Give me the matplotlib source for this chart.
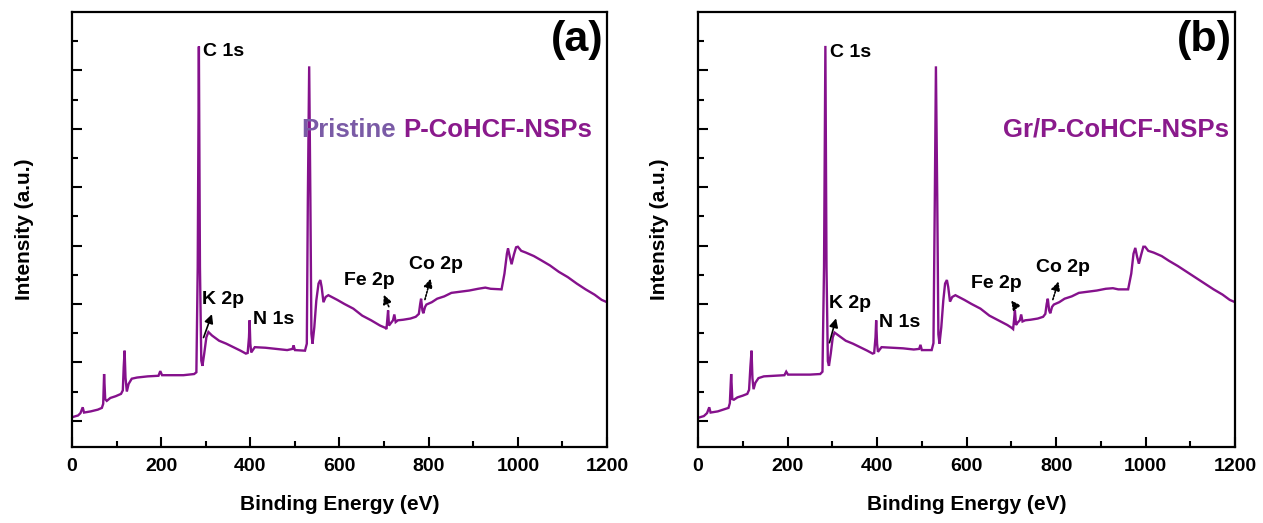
import matplotlib
matplotlib.use("Agg")
import matplotlib.pyplot as plt
from matplotlib.ticker import MultipleLocator

plt.rcParams['font.family'] = ['Liberation Sans', 'DejaVu Sans']
plt.rcParams['font.weight'] = 'bold'

# ---- data (binding energy in eV, intensity in arbitrary units) ----
be_a = [0, 13.6, 19, 24, 27, 42, 58, 67, 70, 72, 74.5, 78, 86, 98, 110, 114, 116, 118, 120, 123,
        127, 134, 146, 170, 194, 198, 202, 226, 250, 274, 279, 282, 284.6, 287, 290, 292.6, 296.6,
        301.4, 306, 314, 330, 346, 362, 378, 390, 394, 397, 398.4, 400, 402, 410, 434, 458.5,
        482.6, 494.6, 497, 500, 522.6, 526.7, 529, 532, 534.7, 537, 539.5, 543.5, 548, 553, 557,
        560, 564, 569, 575, 595, 611, 631, 651, 671, 691, 703, 705.4, 707, 709, 711, 715, 720,
        723, 726, 731, 743, 759, 771, 778, 781, 783, 786, 788, 792, 795, 807, 819, 835, 851, 871,
        891, 911, 927, 939, 963.5, 970, 975.5, 978, 982, 986, 991, 996, 1000, 1007.6, 1018, 1036,
        1052, 1072, 1092, 1112, 1132, 1152, 1172, 1188, 1200]
int_a = [0.06, 0.09, 0.13, 0.23, 0.14, 0.16, 0.19, 0.22, 0.29, 0.80, 0.37, 0.34, 0.39, 0.42, 0.46,
         0.52, 0.92, 1.20, 0.74, 0.50, 0.63, 0.72, 0.74, 0.76, 0.77, 0.85, 0.78, 0.78, 0.78, 0.80,
         0.83, 2.63, 6.41, 2.63, 1.03, 0.94, 1.15, 1.43, 1.52, 1.46, 1.37, 1.32, 1.26, 1.20, 1.15,
         1.16, 1.43, 1.72, 1.32, 1.17, 1.26, 1.25, 1.23, 1.21, 1.23, 1.29, 1.21, 1.20, 1.32, 3.78,
         6.07, 3.78, 1.49, 1.32, 1.60, 2.06, 2.35, 2.41, 2.29, 2.03, 2.12, 2.15, 2.07, 2.00, 1.92,
         1.80, 1.72, 1.63, 1.59, 1.57, 1.72, 1.89, 1.63, 1.67, 1.72, 1.82, 1.69, 1.72, 1.73, 1.75,
         1.78, 1.83, 2.00, 2.09, 1.89, 1.84, 1.95, 1.99, 2.03, 2.09, 2.13, 2.19, 2.21, 2.23, 2.26,
         2.28, 2.26, 2.25, 2.52, 2.86, 2.95, 2.81, 2.68, 2.84, 2.97, 2.98, 2.91, 2.88, 2.82, 2.75,
         2.66, 2.55, 2.46, 2.35, 2.25, 2.16, 2.07, 2.03]

be_b = [0, 13, 20, 25, 28, 44, 60, 68, 71, 74, 76.5, 80, 88, 100, 110, 114, 117, 119.5, 121.5, 124,
        128, 135, 147, 170, 193, 197, 201, 226, 250, 273, 278, 281.5, 284.5, 287, 290, 292.5, 296.5,
        301, 305, 314, 330, 346, 362, 378, 390, 393.5, 396.5, 398, 400, 402, 410, 434, 458,
        482, 494, 497, 500, 522, 526, 529, 531.5, 534.5, 537, 539.5, 543.5, 548, 552, 556,
        559, 563, 568, 575, 595, 611, 631, 651, 671, 691, 701, 704, 706, 708, 710.5, 714, 719,
        722, 725, 731, 743, 759, 771, 776, 779, 781.5, 784.5, 787, 791, 795, 807, 819, 835, 851, 871,
        891, 911, 927, 939, 961, 968, 973, 977, 981, 985, 990, 995, 999, 1006, 1018, 1036,
        1052, 1072, 1092, 1112, 1132, 1152, 1172, 1188, 1200]
int_b = [0.05, 0.08, 0.13, 0.23, 0.14, 0.16, 0.20, 0.22, 0.30, 0.80, 0.37, 0.36, 0.40, 0.43, 0.46,
         0.53, 0.93, 1.20, 0.73, 0.54, 0.65, 0.73, 0.76, 0.77, 0.78, 0.84, 0.79, 0.79, 0.79, 0.80,
         0.84, 2.63, 6.42, 2.63, 1.02, 0.94, 1.15, 1.43, 1.51, 1.46, 1.37, 1.32, 1.26, 1.20, 1.15,
         1.16, 1.43, 1.72, 1.32, 1.18, 1.26, 1.25, 1.24, 1.22, 1.23, 1.30, 1.21, 1.21, 1.33, 3.78,
         6.07, 3.78, 1.48, 1.32, 1.60, 2.06, 2.35, 2.41, 2.29, 2.04, 2.12, 2.15, 2.07, 2.00, 1.92,
         1.80, 1.72, 1.64, 1.59, 1.57, 1.72, 1.89, 1.64, 1.68, 1.72, 1.82, 1.70, 1.72, 1.73, 1.75,
         1.78, 1.83, 2.00, 2.09, 1.89, 1.84, 1.95, 1.99, 2.03, 2.09, 2.13, 2.19, 2.21, 2.23, 2.26,
         2.27, 2.25, 2.25, 2.52, 2.86, 2.96, 2.81, 2.69, 2.84, 2.98, 2.98, 2.91, 2.88, 2.82, 2.74,
         2.65, 2.55, 2.45, 2.35, 2.25, 2.16, 2.07, 2.03]

xlabel = "Binding Energy (eV)"
ylabel = "Intensity (a.u.)"
panel_tags = ["(a)", "(b)"]
line_color = "#85118c"

fig = plt.figure(figsize=(12.63, 5.23), dpi=100)
fig.patch.set_facecolor("white")
ax_a = fig.add_axes([0.057, 0.1453, 0.4236, 0.8317])
ax_b = fig.add_axes([0.5527, 0.1453, 0.4252, 0.8317])

for ax, be, inten, tag, ypad in [(ax_a, be_a, int_a, panel_tags[0], 27),
                                 (ax_b, be_b, int_b, panel_tags[1], 21)]:
    ax.plot(be, inten, color=line_color, lw=1.7, solid_joinstyle='miter')
    ax.set_xlim(0, 1200)
    ax.set_ylim(-0.45, 7.0)
    ax.xaxis.set_major_locator(MultipleLocator(200))
    ax.xaxis.set_minor_locator(MultipleLocator(100))
    ax.set_yticks([0, 1, 2, 3, 4, 5, 6])
    ax.set_yticks([0.5, 1.5, 2.5, 3.5, 4.5, 5.5, 6.5], minor=True)
    ax.tick_params(axis='both', which='major', direction='in', length=7, width=1.5,
                   top=False, right=False, labelsize=14, pad=8)
    ax.tick_params(axis='both', which='minor', direction='in', length=4.5, width=1.5,
                   top=False, right=False)
    ax.tick_params(axis='y', which='both', labelleft=False)
    for lab in ax.get_xticklabels():
        lab.set_fontweight('bold')
    for s in ax.spines.values():
        s.set_linewidth(1.6)
    ax.set_xlabel(xlabel, fontsize=15, fontweight='bold', labelpad=14)
    ax.set_ylabel(ylabel, fontsize=15, fontweight='bold', labelpad=ypad)
    ax.text(0.994, 0.935, tag, transform=ax.transAxes, ha='right', va='center',
            fontsize=31, fontweight='bold', color='black')

# --- annotations panel (a) ---
fs = 14
ax_a.text(294, 6.33, "C 1s", fontsize=fs, fontweight='bold', va='center', ha='left')
ax_a.text(292, 2.08, "K 2p", fontsize=fs, fontweight='bold', va='center', ha='left')
ax_a.text(405, 1.73, "N 1s", fontsize=fs, fontweight='bold', va='center', ha='left')
ax_a.text(611, 2.41, "Fe 2p", fontsize=fs, fontweight='bold', va='center', ha='left')
ax_a.text(755, 2.68, "Co 2p", fontsize=fs, fontweight='bold', va='center', ha='left')
ax_a.text(514, 4.98, "Pristine", fontsize=18.5, fontweight='bold', va='center', ha='left',
          color="#7a5ba6")
ax_a.text(743, 4.98, "P-CoHCF-NSPs", fontsize=18.5, fontweight='bold', va='center', ha='left',
          color="#8a1a8c")
ax_a.annotate("", xy=(316, 1.87), xytext=(293, 1.38),
              arrowprops=dict(arrowstyle='-|>', color='black', lw=1.2, mutation_scale=13))
ax_a.annotate("", xy=(697, 2.20), xytext=(713, 1.91),
              arrowprops=dict(arrowstyle='-|>', color='black', lw=1.2, ls=(0, (1, 1)),
                              mutation_scale=13))
ax_a.annotate("", xy=(806, 2.48), xytext=(790, 2.03),
              arrowprops=dict(arrowstyle='-|>', color='black', lw=1.2, ls=(0, (1, 1)),
                              mutation_scale=13))

# --- annotations panel (b) ---
ax_b.text(294, 6.30, "C 1s", fontsize=fs, fontweight='bold', va='center', ha='left')
ax_b.text(292, 2.00, "K 2p", fontsize=fs, fontweight='bold', va='center', ha='left')
ax_b.text(405, 1.69, "N 1s", fontsize=fs, fontweight='bold', va='center', ha='left')
ax_b.text(611, 2.35, "Fe 2p", fontsize=fs, fontweight='bold', va='center', ha='left')
ax_b.text(755, 2.63, "Co 2p", fontsize=fs, fontweight='bold', va='center', ha='left')
ax_b.text(681, 4.98, "Gr/P-CoHCF-NSPs", fontsize=18.5, fontweight='bold', va='center', ha='left',
          color="#8a1a8c")
ax_b.annotate("", xy=(310, 1.80), xytext=(292, 1.29),
              arrowprops=dict(arrowstyle='-|>', color='black', lw=1.2, mutation_scale=13))
ax_b.annotate("", xy=(696, 2.10), xytext=(713, 1.92),
              arrowprops=dict(arrowstyle='-|>', color='black', lw=1.2, ls=(0, (1, 1)),
                              mutation_scale=13))
ax_b.annotate("", xy=(807, 2.43), xytext=(791, 2.03),
              arrowprops=dict(arrowstyle='-|>', color='black', lw=1.2, ls=(0, (1, 1)),
                              mutation_scale=13))

fig.savefig("out.png", dpi=100, facecolor="white")
